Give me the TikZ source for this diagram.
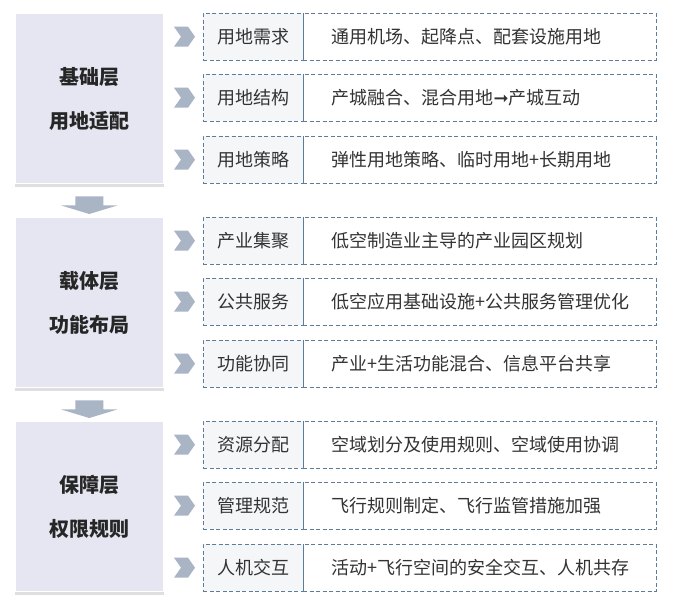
\documentclass[tikz,border=0pt]{standalone}
\usepackage{fontspec}
\setmainfont{Noto Sans CJK SC}
\newfontfamily\dvf{DejaVu Sans}
\usetikzlibrary{calc,shadows}
\newcommand\rowlab[1]{\ifcase#1 用地需求\or 用地结构\or 用地策略\or 产业集聚\or 公共服务\or 功能协同\or 资源分配\or 管理规范\or 人机交互\fi}
\newcommand\rowcont[1]{\ifcase#1 通用机场、起降点、配套设施用地\or 产城融合、混合用地{\dvf\bfseries ➞}产城互动\or 弹性用地策略、临时用地+长期用地\or 低空制造业主导的产业园区规划\or 低空应用基础设施+公共服务管理优化\or 产业+生活功能混合、信息平台共享\or 空域划分及使用规则、空域使用协调\or 飞行规则制定、飞行监管措施加强\or 活动+飞行空间的安全交互、人机共存\fi}
\definecolor{layerfill}{HTML}{E6E6F2}
\definecolor{labfill}{HTML}{F4F6F8}
\definecolor{dashc}{HTML}{5C7C9C}
\definecolor{arrc}{HTML}{A9B5C5}
\begin{document}
\begin{tikzpicture}[x=1pt,y=-1pt,
  dsh/.style={dash pattern=on 4pt off 2.5pt},
  layer/.style={draw=white,line width=1.5pt,fill=layerfill,minimum width=149pt,minimum height=170pt,anchor=north west,inner sep=0pt,font=\fontsize{20}{44}\selectfont\bfseries,align=center,text=black!85,drop shadow={opacity=0.25,shadow xshift=0pt,shadow yshift=-3pt}},
  lab/.style={draw=dashc,dsh,fill=labfill,minimum width=100pt,minimum height=47pt,anchor=north west,inner sep=0pt,font=\fontsize{18}{20}\selectfont,text=black!80},
  cont/.style={draw=dashc,dsh,fill=white,minimum width=353pt,minimum height=47pt,anchor=north west,inner sep=0pt},
  ctext/.style={anchor=west,font=\fontsize{18}{20}\selectfont,text=black!80}]
\useasboundingbox (0,0) rectangle (673,609);
\fill[white] (0,0) rectangle (673,609);
\node[layer] (L0) at (14,13) {基础层\\用地适配};
\node[layer] (L1) at (14,217) {载体层\\功能布局};
\node[layer] (L2) at (14,421) {保障层\\权限规则};
\foreach \a/\b in {L0/L1,L1/L2}{
  \path (\a.south) ++(0,12) coordinate (t);
  \fill[arrc] ($(t)+(-14,0)$) -- ++(28,0) -- ++(0,9) -- ++(14,0) -- ($(\b.north)+(0,-3)$) -- ($(t)+(-28,9)$) -- ++(14,0) -- cycle;
}
\foreach \g in {0,1,2}{
  \foreach \r/\off in {0/0,1/61,2/123}{
    \pgfmathtruncatemacro{\k}{3*\g+\r}
    \pgfmathsetmacro{\yy}{13+204*\g+\off}
    \node[cont] (C\k) at (303,\yy) {};
    \node[ctext] (T\k) at ([xshift=25pt]C\k.west) {\rowcont{\k}};
    \node[lab] (B\k) at (203,\yy) {\rowlab{\k}};
    \draw[dashc,solid] (B\k.north east) -- (B\k.south east);
    \path (B\k.west) ++(-8,0) coordinate (c);
    \fill[arrc] ($(c)+(-21,-10)$) -- ++(14,0) -- (c) -- ++(-7,10) -- ++(-14,0) -- ++(7,-10) -- cycle;
  }
}
\end{tikzpicture}
\end{document}
